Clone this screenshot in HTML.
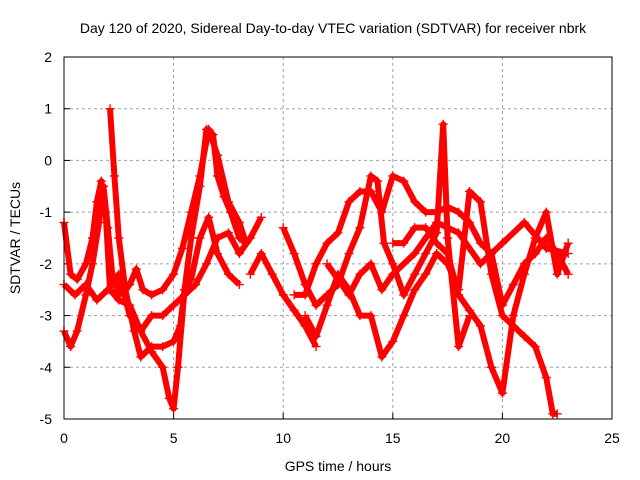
<!DOCTYPE html>
<html><head><meta charset="utf-8"><style>
body{margin:0;background:#fff}
svg{display:block;font-family:"Liberation Sans",sans-serif}
</style></head><body>
<svg id="c" width="640" height="480" viewBox="0 0 640 480">
<text x="333" y="33" text-anchor="middle" font-size="14">Day 120 of 2020, Sidereal Day-to-day VTEC variation (SDTVAR) for receiver nbrk</text>
<text x="338" y="471" text-anchor="middle" font-size="14">GPS time / hours</text>
<text transform="translate(20,238) rotate(-90)" text-anchor="middle" font-size="14">SDTVAR / TECUs</text>
<g id="grid"></g><g id="marks"></g>
<rect x="64" y="57" width="548" height="362" fill="none" stroke="#000" stroke-width="1"/>
</svg>
<script>
const xTicks=[0,5,10,15,20,25];
const yTicks=[-5,-4,-3,-2,-1,0,1,2];
const track1=[[0,-1.2],[0.3,-2.2],[0.6,-2.3],[1,-2],[1.3,-1.5],[1.5,-0.8],[1.7,-0.4],[1.9,-1],[2.1,-2.5],[2.5,-2.7],[3,-2.8],[3.5,-3.3],[4,-3.7],[4.5,-4],[4.8,-4.6],[5,-4.8],[5.2,-4],[5.5,-2.5],[5.8,-1.5],[6.2,-0.5],[6.5,0.6],[6.8,0.5],[7,-0.3],[7.3,-0.7],[7.6,-1],[8,-1.5],[8.3,-1.6]];
const track2=[[0,-3.3],[0.3,-3.6],[0.6,-3.3],[1,-2.6],[1.3,-2],[1.6,-1.2],[1.8,-0.5],[2,-1.3],[2.2,-2.2],[2.5,-2.6],[3,-2.4],[3.3,-2.1],[3.6,-2.5],[4,-2.6],[4.5,-2.5],[5,-2.2],[5.4,-1.7],[5.8,-1],[6.2,-0.3],[6.6,0.6],[7,0.1],[7.5,-0.8],[8,-1.2],[8.3,-1.6]];
const track3=[[2.1,1],[2.3,-0.3],[2.5,-1.5],[2.8,-2.5],[3.2,-3.3],[3.5,-3.8],[4,-3.6],[4.5,-3.6],[5,-3.5],[5.3,-3.2],[5.5,-2.5],[5.8,-2.3],[6.2,-1.5],[6.6,-1.1],[7,-1.8],[7.5,-2.2],[8,-2.4]];
const track4=[[0,-2.4],[0.5,-2.6],[1,-2.4],[1.5,-2.7],[2,-2.5],[2.5,-2.2],[3,-3],[3.5,-3.3],[4,-3],[4.5,-3],[5,-2.8],[5.5,-2.6],[6,-2.4],[6.5,-2],[7,-1.5],[7.5,-1.4],[8,-1.8],[8.5,-1.5],[9,-1.1]];
const track5=[[8.5,-2.2],[9,-1.8],[9.5,-2.2],[10,-2.6],[10.5,-2.9],[11,-3.2],[11.5,-3.6]];
const track6=[[10,-1.3],[10.5,-1.8],[11,-2.4],[11.5,-2.8],[12,-2.6],[12.5,-2.4],[13,-1.8],[13.5,-1.3],[14,-0.3],[14.3,-0.4],[14.6,-1.6],[15,-2],[15.5,-2.6],[16,-2.2],[16.5,-1.8],[17,-1.4],[17.3,0.7],[17.5,-1.5],[18,-3.6],[18.5,-3]];
const track7=[[10.5,-2.6],[11,-2.6],[11.5,-2],[12,-1.6],[12.5,-1.4],[13,-0.8],[13.5,-0.6],[14,-0.6],[14.5,-1],[15,-0.3],[15.5,-0.4],[16,-0.8],[16.5,-1],[17,-1],[17.5,-0.9],[18,-1],[18.5,-1.2],[19,-1.6],[19.5,-1.8],[20,-2.8],[20.5,-2.4],[21,-2],[21.5,-1.8],[22,-1.5],[22.5,-1.8],[23,-2.2]];
const track8=[[11,-3],[11.5,-3.4],[12,-2.8],[12.5,-2.2],[13,-2.5],[13.5,-3],[14,-3],[14.5,-3.8],[15,-3.5],[15.5,-3],[16,-2.5],[16.5,-2.2],[17,-1.8],[17.5,-2],[18,-2.5],[18.5,-0.6],[19,-0.8],[19.5,-2.2],[20,-3],[20.5,-3.2],[21,-3.4],[21.5,-3.6],[22,-4.2],[22.3,-4.9],[22.5,-4.9]];
const track9=[[15,-1.6],[15.5,-1.6],[16,-1.3],[16.5,-1.3],[17,-1.6],[17.5,-1.8],[18,-2.6],[18.5,-2.9],[19,-3.2],[19.5,-4],[20,-4.5],[20.5,-3],[21,-2.2],[21.5,-1.5],[22,-1],[22.5,-2.2],[23,-1.6]];
const track10=[[12,-2],[12.5,-2.3],[13,-2.6],[13.5,-2.2],[14,-2],[14.5,-2.5],[15,-2.2],[16,-1.8],[17,-1.2],[18,-1.4],[19,-2],[20,-1.6],[21,-1.2],[22,-1.7],[23,-1.8]];
const tracks=[track1,track2,track3,track4,track5,track6,track7,track8,track9,track10];
const X=v=>64+v*548/25, Y=v=>419-(v+5)*362/7;
const NS='http://www.w3.org/2000/svg';
const grid=document.getElementById('grid'), marks=document.getElementById('marks');
function mk(tag,attrs,parent){const e=document.createElementNS(NS,tag);for(const k in attrs)e.setAttribute(k,attrs[k]);parent.appendChild(e);return e;}
xTicks.forEach(t=>{
 if(t>0&&t<25){const l=mk('line',{x1:X(t),x2:X(t),y1:57,y2:419,stroke:'#a0a0a0','stroke-dasharray':'3,3'},grid);
 
 }
 const tk=mk('line',{x1:X(t),x2:X(t),y1:419,y2:413,stroke:'#000'},grid);
 
 
 const tx=mk('text',{x:X(t),y:443,'text-anchor':'middle','font-size':14},grid);tx.textContent=t;
 
 
});
yTicks.forEach(t=>{
 if(t>-5&&t<2){const l=mk('line',{x1:64,x2:612,y1:Y(t),y2:Y(t),stroke:'#a0a0a0','stroke-dasharray':'3,3'},grid);
 
 }
 const tk=mk('line',{x1:64,x2:70,y1:Y(t),y2:Y(t),stroke:'#000'},grid);
 
 
 const tx=mk('text',{x:52,y:Y(t)+5,'text-anchor':'end','font-size':14},grid);tx.textContent=t;
 
 
});
tracks.forEach((tr,i)=>{
 const g=mk('g',{},marks);
 
 
 mk('polyline',{points:tr.map(p=>X(p[0])+','+Y(p[1])).join(' '),fill:'none',stroke:'#f00','stroke-width':6,'stroke-linejoin':'round'},g);
 tr.forEach(p=>{const x=X(p[0]),y=Y(p[1]);
  const m=mk('path',{d:`M${x-4.5},${y}H${x+4.5}M${x},${y-4.5}V${y+4.5}`,stroke:'#f00','stroke-width':1.4},g);
  
  
 });
});
</script>
</body></html>
